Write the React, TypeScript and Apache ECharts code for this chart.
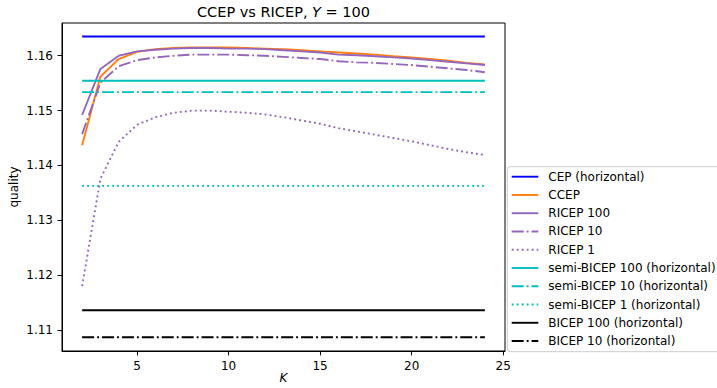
import React, { useEffect, useRef } from "react";
import * as echarts from "echarts";

// Number of clusters K on the x axis
const K = [2, 3, 4, 5, 6, 7, 8, 9, 10, 11, 12, 13, 14, 15, 16, 17, 18, 19, 20, 21, 22, 23, 24];

// Quality per K
const ccep = [
  1.1437, 1.1562, 1.1594, 1.1607, 1.1612, 1.1614, 1.1615, 1.1615, 1.1615, 1.1614, 1.1613, 1.1612,
  1.161, 1.1608, 1.1606, 1.1604, 1.1602, 1.1599, 1.1597, 1.1594, 1.1591, 1.1587, 1.1584,
];
const ricep100 = [
  1.1492, 1.1576, 1.16, 1.1608, 1.1611, 1.1613, 1.1614, 1.1614, 1.1613, 1.1613, 1.1612, 1.161,
  1.1608, 1.1606, 1.1602, 1.1601, 1.1599, 1.1597, 1.1595, 1.1592, 1.1589, 1.1586, 1.1583,
];
const ricep10 = [
  1.1457, 1.1551, 1.1581, 1.1592, 1.1597, 1.16, 1.1602, 1.1602, 1.1602, 1.1601, 1.16, 1.1598,
  1.1596, 1.1594, 1.159, 1.1588, 1.1587, 1.1585, 1.1583, 1.158, 1.1577, 1.1574, 1.157,
];
const ricep1 = [
  1.118, 1.1376, 1.1443, 1.1474, 1.1488, 1.1496, 1.15, 1.15, 1.1498, 1.1496, 1.1493, 1.1488,
  1.1482, 1.1476, 1.1468, 1.1462, 1.1456, 1.145, 1.1444, 1.1437, 1.143, 1.1424, 1.1419,
];

// Constant reference levels (drawn as horizontal lines across the K range)
const cepLevel = 1.16352;
const semiBicep100Level = 1.15544;
const semiBicep10Level = 1.15337;
const semiBicep1Level = 1.13628;
const bicep100Level = 1.11359;
const bicep10Level = 1.10867;

const xTicks = [5, 10, 15, 20, 25];
const yTicks = [1.11, 1.12, 1.13, 1.14, 1.15, 1.16];

const FONT = "DejaVu Sans";
const LW = 1.9;
const SOLID: number[] = [];
const DASHDOT = [12, 3, 1.9, 3];
const DOTTED = [1.9, 3.1];

const BLUE = "#0000ff";
const ORANGE = "#ff7f0e";
const PURPLE = "#9467bd";
const CYAN = "#00bfbf";
const BLACK = "#000000";

function curve(values: number[]) {
  return K.map((k, i) => [k, values[i]]);
}

function level(v: number) {
  return [
    [K[0], v],
    [K[K.length - 1], v],
  ];
}

type Entry = { name: string; data: number[][]; color: string; dash: number[] };

function lineSeries(e: Entry) {
  return {
    name: e.name,
    type: "line",
    data: e.data,
    symbol: "none",
    showSymbol: false,
    color: e.color,
    lineStyle: { color: e.color, width: LW, type: e.dash.length ? e.dash : "solid" },
    emphasis: { disabled: true },
  };
}

// Legend drawn as graphic elements so each sample keeps its dash pattern
function legendGraphics(entries: Entry[]) {
  const boxX = 507.3;
  const boxY = 166.7;
  const rowY0 = 176.7;
  const rowStep = 18.26;
  const els: any[] = [
    {
      type: "rect",
      shape: { x: boxX, y: boxY, width: 230, height: 185, r: 3 },
      style: { fill: "#ffffff", stroke: "#cccccc", lineWidth: 1 },
      z: 10,
    },
  ];
  entries.forEach((e, i) => {
    const y = rowY0 + i * rowStep;
    els.push({
      type: "line",
      shape: { x1: 511.7, y1: y, x2: 538.3, y2: y },
      style: { stroke: e.color, lineWidth: LW, lineDash: e.dash.length ? e.dash : null },
      z: 11,
    });
    els.push({
      type: "text",
      x: 548.3,
      y,
      style: {
        text: e.name,
        fontSize: 12,
        fontFamily: FONT,
        fill: BLACK,
        verticalAlign: "middle",
        align: "left",
      },
      z: 11,
    });
  });
  return els;
}

export default function App() {
  const ref = useRef<HTMLDivElement>(null);

  useEffect(() => {
    if (!ref.current) return;
    const chart = echarts.init(ref.current, undefined, { renderer: "svg" });

    const entries: Entry[] = [
      { name: "CEP (horizontal)", data: level(cepLevel), color: BLUE, dash: SOLID },
      { name: "CCEP", data: curve(ccep), color: ORANGE, dash: SOLID },
      { name: "RICEP 100", data: curve(ricep100), color: PURPLE, dash: SOLID },
      { name: "RICEP 10", data: curve(ricep10), color: PURPLE, dash: DASHDOT },
      { name: "RICEP 1", data: curve(ricep1), color: PURPLE, dash: DOTTED },
      { name: "semi-BICEP 100 (horizontal)", data: level(semiBicep100Level), color: CYAN, dash: SOLID },
      { name: "semi-BICEP 10 (horizontal)", data: level(semiBicep10Level), color: CYAN, dash: DASHDOT },
      { name: "semi-BICEP 1 (horizontal)", data: level(semiBicep1Level), color: CYAN, dash: DOTTED },
      { name: "BICEP 100 (horizontal)", data: level(bicep100Level), color: BLACK, dash: SOLID },
      { name: "BICEP 10 (horizontal)", data: level(bicep10Level), color: BLACK, dash: DASHDOT },
    ];

    chart.setOption({
      animation: false,
      backgroundColor: "#ffffff",
      textStyle: { fontFamily: FONT },
      grid: {
        left: 62,
        top: 23,
        width: 443,
        height: 328,
        show: true,
        borderColor: BLACK,
        borderWidth: 1,
        backgroundColor: "transparent",
      },
      xAxis: {
        type: "value",
        min: 0.9,
        max: 25.1,
        splitLine: { show: false },
        axisLine: { show: true, lineStyle: { color: BLACK, width: 1 } },
        axisTick: { show: true, length: 4.4, lineStyle: { color: BLACK }, customValues: xTicks },
        axisLabel: {
          customValues: xTicks,
          margin: 9,
          color: BLACK,
          fontSize: 12,
          fontFamily: FONT,
          formatter: (v: number) => String(v),
        },
      },
      yAxis: {
        type: "value",
        min: 1.10617,
        max: 1.16597,
        splitLine: { show: false },
        axisLine: { show: true, lineStyle: { color: BLACK, width: 1 } },
        axisTick: { show: true, length: 4.4, lineStyle: { color: BLACK }, customValues: yTicks },
        axisLabel: {
          customValues: yTicks,
          margin: 9,
          color: BLACK,
          fontSize: 12,
          fontFamily: FONT,
          formatter: (v: number) => v.toFixed(2),
        },
      },
      graphic: [
        {
          type: "text",
          x: 283.5,
          y: 12,
          style: {
            text: "{n|CCEP vs RICEP, }{i|Y}{n| = 100}",
            align: "center",
            verticalAlign: "middle",
            rich: {
              n: { fontSize: 14.5, fontFamily: FONT, fill: BLACK },
              i: { fontSize: 14.5, fontFamily: FONT, fontStyle: "italic", fill: BLACK },
            },
          },
        },
        {
          type: "text",
          x: 14,
          y: 187,
          rotation: Math.PI / 2,
          style: {
            text: "quality",
            align: "center",
            verticalAlign: "middle",
            fontSize: 12,
            fontFamily: FONT,
            fill: BLACK,
          },
        },
        {
          type: "text",
          x: 283.5,
          y: 378,
          style: {
            text: "K",
            align: "center",
            verticalAlign: "middle",
            fontSize: 12,
            fontStyle: "italic",
            fontFamily: FONT,
            fill: BLACK,
          },
        },
        ...legendGraphics(entries),
      ],
      series: entries.map(lineSeries),
    });

    return () => chart.dispose();
  }, []);

  return (
    <div
      ref={ref}
      style={{ position: "absolute", left: 0, top: 0, width: 717, height: 388, overflow: "hidden" }}
    />
  );
}
